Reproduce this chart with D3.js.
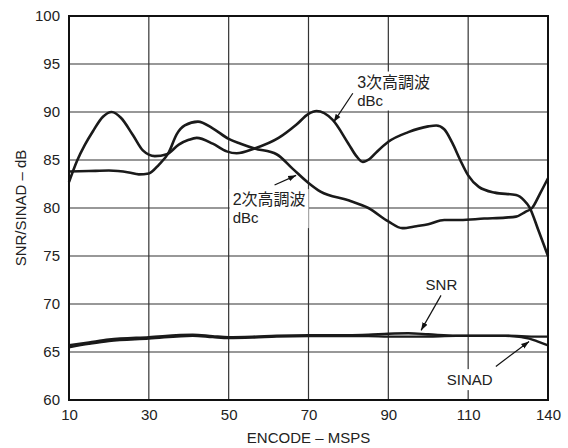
<!DOCTYPE html>
<html>
<head>
<meta charset="utf-8">
<script src="https://cdn.jsdelivr.net/npm/d3@7"></script>
<style>
  body { margin: 0; background: #fff; }
  text { font-family: "Liberation Sans", Arial, "Noto Sans CJK JP", sans-serif; fill: #222; }
</style>
</head>
<body>
<div id="chart"></div>
<script>
// encode rate (MSPS) and measured values (dB / dBc)
var harm3X = [10, 12, 14, 16, 18.5, 20.7, 23, 26, 28.5, 31.5, 34.5, 37.5, 40, 42, 46, 49.5, 52, 56.5, 62.5, 67, 70, 72, 76, 80, 82, 83.6, 85.3, 87, 90, 95, 100, 102, 104, 106, 108, 110, 114, 120, 128, 131, 133, 136.5, 140];
var harm3Y = [82.7, 84.9, 86.6, 88.0, 89.5, 90.0, 89.4, 87.6, 86.0, 85.4, 85.6, 86.6, 87.1, 87.3, 86.7, 85.9, 85.7, 86.2, 87.3, 88.7, 89.8, 90.1, 89.2, 86.7, 85.4, 84.8, 85.1, 85.8, 86.9, 87.9, 88.5, 88.6, 88.2, 86.8, 85.0, 83.4, 82.2, 81.6, 81.35, 80.8, 80.1, 77.6, 75.0];

var harm2X = [10, 15, 20, 25, 27.5, 30, 32.5, 35, 37, 39, 42.3, 46, 50, 53, 56.5, 62, 66, 70, 73, 80, 85, 90, 93.5, 97, 100, 104, 108, 116, 124, 128, 131.5, 134, 137, 140];
var harm2Y = [83.8, 83.85, 83.9, 83.7, 83.5, 83.6, 84.5, 85.8, 87.7, 88.6, 89.0, 88.3, 87.2, 86.7, 86.2, 85.6, 84.1, 82.6, 81.7, 80.8, 80.0, 78.6, 77.9, 78.1, 78.3, 78.75, 78.75, 78.9, 79.0, 79.1, 79.6, 80.0, 81.5, 83.1];

var snrX = [10, 15, 20, 30, 41, 46, 50, 56, 62, 70, 80, 85, 90, 95, 100, 107, 124, 130, 135, 140];
var snrY = [65.7, 66.0, 66.3, 66.55, 66.8, 66.65, 66.55, 66.6, 66.7, 66.75, 66.75, 66.8, 66.9, 66.95, 66.85, 66.7, 66.7, 66.65, 66.6, 66.6];

var sinadX = [10, 15, 20, 30, 41, 46, 50, 56, 62, 70, 80, 85, 90, 95, 100, 107, 124, 130, 133, 136, 140];
var sinadY = [65.5, 65.85, 66.15, 66.4, 66.7, 66.55, 66.45, 66.5, 66.6, 66.65, 66.65, 66.65, 66.6, 66.6, 66.62, 66.68, 66.68, 66.55, 66.4, 66.1, 65.7];

var xTicks = [10, 30, 50, 70, 90, 110, 140];
var yTicks = [60, 65, 70, 75, 80, 85, 90, 95, 100];

var margin = {top: 16, right: 20, bottom: 48, left: 69},
    width = 568 - margin.left - margin.right,
    height = 448 - margin.top - margin.bottom;

var svg = d3.select("#chart").append("svg")
    .attr("width", 568)
    .attr("height", 448);

var g = svg.append("g")
    .attr("transform", "translate(" + margin.left + "," + margin.top + ")");

// the last division (110-140) is drawn the same width as the others
var x = d3.scaleLinear()
    .domain([10, 110, 140])
    .range([0, width * 5 / 6, width]);

var y = d3.scaleLinear()
    .domain([60, 100])
    .range([height, 0]);

// grid
g.append("g")
    .selectAll("line.h")
    .data(yTicks)
    .enter().append("line")
      .attr("x1", 0).attr("x2", width)
      .attr("y1", function(d) { return y(d); })
      .attr("y2", function(d) { return y(d); })
      .attr("stroke", "#333")
      .attr("stroke-width", 1.2);

g.append("g")
    .selectAll("line.v")
    .data(xTicks)
    .enter().append("line")
      .attr("y1", 0).attr("y2", height)
      .attr("x1", function(d) { return x(d); })
      .attr("x2", function(d) { return x(d); })
      .attr("stroke", "#333")
      .attr("stroke-width", 1.2);

// tick labels via axes
var xAxis = g.append("g")
    .attr("transform", "translate(0," + height + ")")
    .call(d3.axisBottom(x).tickValues(xTicks).tickSize(0).tickPadding(9).tickFormat(d3.format("d")));
var yAxis = g.append("g")
    .call(d3.axisLeft(y).tickValues(yTicks).tickSize(0).tickPadding(9).tickFormat(d3.format("d")));

[xAxis, yAxis].forEach(function(a) {
  a.select(".domain").remove();
  a.selectAll("text").style("font-size", "15px").attr("fill", "#222")
    .style("font-family", "'Liberation Sans', Arial, sans-serif");
});

// annotation boxes (white behind the text)
var notes = [
  {x: 82.2, y: 92.55, lines: ["3次高調波", "dBc"], size: 16, anchor: "start", ax1: 81.1, ay1: 91.95, ax2: 76.3, ay2: 88.95},
  {x: 51.0, y: 80.3, lines: ["2次高調波", "dBc"], size: 16, anchor: "start", ax1: 61.5, ay1: 82.4, ax2: 66.9, ay2: 83.4},
  {x: 103.3, y: 71.5, lines: ["SNR"], size: 15, anchor: "middle", ax1: 103.2, ay1: 70.9, ax2: 98.2, ay2: 67.25},
  {x: 110.6, y: 61.55, lines: ["SINAD"], size: 15, anchor: "middle", ax1: 120.4, ay1: 63.5, ax2: 132.9, ay2: 66.1}
];

var noteG = g.append("g");
notes.forEach(function(n) {
  var t = noteG.append("text")
      .attr("x", x(n.x))
      .attr("y", y(n.y))
      .attr("text-anchor", n.anchor)
      .style("font-size", n.size + "px");
  n.lines.forEach(function(l, i) {
    t.append("tspan")
      .attr("x", x(n.x))
      .attr("dy", i == 0 ? 0 : 18)
      .style("font-size", i == 0 ? n.size + "px" : "15px")
      .text(l);
  });
  var b = t.node().getBBox();
  noteG.insert("rect", "text")
      .attr("x", b.x - 3).attr("y", b.y - 2)
      .attr("width", b.width + 6).attr("height", b.height + 4)
      .attr("fill", "#fff");
});

// curves
var line = d3.line()
    .x(function(d) { return x(d[0]); })
    .y(function(d) { return y(d[1]); })
    .curve(d3.curveMonotoneX);

var series = [
  {xs: harm3X, ys: harm3Y, w: 2.6},
  {xs: harm2X, ys: harm2Y, w: 2.6},
  {xs: sinadX, ys: sinadY, w: 2.4},
  {xs: snrX, ys: snrY, w: 2.4}
];

series.forEach(function(s) {
  g.append("path")
      .datum(s.xs.map(function(v, i) { return [v, s.ys[i]]; }))
      .attr("fill", "none")
      .attr("stroke", "#1a1a1a")
      .attr("stroke-width", s.w)
      .attr("stroke-linejoin", "round")
      .attr("d", line);
});

// arrows
svg.append("defs").append("marker")
    .attr("id", "arrow")
    .attr("viewBox", "0 0 10 10")
    .attr("refX", 10).attr("refY", 5)
    .attr("markerWidth", 8).attr("markerHeight", 8)
    .attr("markerUnits", "userSpaceOnUse")
    .attr("orient", "auto")
  .append("path")
    .attr("d", "M0,1.5L10,5L0,8.5Z")
    .attr("fill", "#111");

notes.forEach(function(n) {
  g.append("line")
      .attr("x1", x(n.ax1)).attr("y1", y(n.ay1))
      .attr("x2", x(n.ax2)).attr("y2", y(n.ay2))
      .attr("stroke", "#111")
      .attr("stroke-width", 1.2)
      .attr("marker-end", "url(#arrow)");
});

// frame
g.append("rect")
    .attr("width", width).attr("height", height)
    .attr("fill", "none")
    .attr("stroke", "#111")
    .attr("stroke-width", 2);

// axis titles
svg.append("text")
    .attr("x", margin.left + width / 2)
    .attr("y", 443)
    .attr("text-anchor", "middle")
    .style("font-size", "15px")
    .text("ENCODE – MSPS");

svg.append("text")
    .attr("transform", "translate(26," + (margin.top + height / 2) + ") rotate(-90)")
    .attr("text-anchor", "middle")
    .style("font-size", "15px")
    .text("SNR/SINAD – dB");
</script>
</body>
</html>
